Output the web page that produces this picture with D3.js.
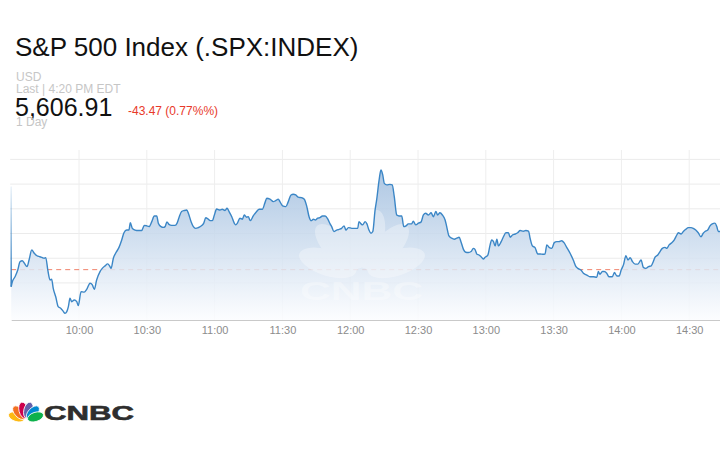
<!DOCTYPE html>
<html>
<head>
<meta charset="utf-8">
<script src="https://cdn.jsdelivr.net/npm/d3@7"></script>
<style>
  body { margin: 0; background: #fff; }
  text { font-family: "Liberation Sans", Arial, sans-serif; }
</style>
</head>
<body>
<div id="canvas"></div>
<script>
const w = 720;
const h = 450;
const plot = { left: 11.2, right: 720, top: 150, bottom: 320 };
const minutePx = 2.26;

// header texts
const title = "S&P 500 Index (.SPX:INDEX)";
const currency = "USD";
const lastTime = "Last | 4:20 PM EDT";
const lastPrice = "5,606.91";
const change = "-43.47 (0.77%%)";
const period = "1 Day";

// axes (only the ticks that fall inside the visible window)
const openTime = "9:30";
const closeTime = "16:00";
const timeTicks = ["10:00", "10:30", "11:00", "11:30", "12:00", "12:30", "13:00", "13:30", "14:00", "14:30"];
const priceDomain = [5630, 5698.8];
const priceGrid = [5645, 5655, 5665, 5675, 5685, 5695];
const prevClose = 5650.38;

// intraday series (minutes after the open, index level)
const minutesFromOpen = [
  0, 0, 0.5, 1.7, 2.9, 3.9, 4.9, 5.8, 7.0, 7.9,
  9.1, 10.2, 11.4, 12.7, 13.8, 14.6, 15.3, 16.2, 17.2, 17.9,
  18.6, 19.7, 20.8, 22.0, 23.1, 23.8, 24.6, 25.3, 26.0, 26.8,
  27.9, 29.0, 29.7, 30.9, 32.3, 33.4, 34.9, 35.9, 36.8, 37.8,
  39.3, 40.3, 41.5, 42.7, 43.7, 44.2, 45.2, 46.2, 47.7, 48.9,
  49.9, 51.1, 52.1, 52.7, 53.6, 54.8, 56.2, 57.7, 58.9, 60.0,
  61.0, 62.2, 63.3, 64.4, 65.1, 66.3, 67.3, 68.1, 68.9, 69.8,
  71.0, 72.5, 73.4, 74.3, 75.4, 76.6, 77.7, 78.4, 79.6, 80.6,
  81.6, 82.8, 84.3, 85.2, 86.1, 87.2, 88.0, 89.0, 89.9, 90.9,
  92.4, 93.4, 94.6, 95.5, 96.4, 97.6, 98.7, 99.3, 100.2, 101.2,
  102.3, 103.1, 104.2, 104.9, 105.8, 107.1, 108.6, 109.7, 111.1, 112.3,
  113.1, 114.5, 116.0, 117.0, 118.2, 118.9, 120.1, 121.5, 122.6, 123.8,
  124.8, 125.9, 127.0, 128.5, 129.7, 130.8, 131.8, 132.7, 133.7, 134.7,
  135.6, 136.6, 137.7, 138.9, 140.1, 141.1, 141.8, 142.8, 144.0, 145.1,
  146.2, 147.3, 148.1, 149.2, 150.7, 152.1, 153.3, 153.9, 154.8, 155.5,
  156.6, 157.4, 158.3, 159.2, 160.0, 161.0, 161.7, 162.8, 163.6, 164.4,
  165.1, 166.2, 167.6, 168.6, 169.5, 170.6, 171.6, 172.8, 173.7, 174.7,
  175.7, 177.2, 177.9, 179.0, 180.2, 181.3, 182.4, 183.4, 184.6, 185.8,
  186.8, 187.9, 188.7, 189.7, 190.8, 192.0, 192.7, 193.7, 194.9, 196.1,
  197.1, 198.2, 199.0, 200.1, 201.1, 202.3, 203.5, 204.5, 205.2, 206.1,
  207.0, 207.9, 208.9, 209.7, 210.9, 211.9, 212.6, 213.4, 214.1, 214.9,
  215.6, 216.8, 217.8, 218.9, 220.0, 220.8, 221.8, 223.0, 224.1, 225.2,
  226.6, 227.7, 228.9, 229.6, 230.6, 231.8, 233.0, 234.1, 235.2, 236.2,
  237.0, 238.0, 239.2, 240.3, 241.4, 242.4, 243.6, 244.6, 245.8, 247.3,
  248.7, 249.9, 250.7, 252.1, 253.2, 254.7, 256.1, 257.6, 259.1, 259.8,
  260.5, 261.6, 262.4, 263.5, 264.5, 266.0, 266.9, 268.0, 269.0, 269.9,
  270.9, 272.0, 272.9, 273.9, 274.9, 276.1, 277.3, 278.7, 279.7, 280.8,
  282.0, 283.2, 284.1, 284.9, 286.1, 287.1, 288.1, 289.3, 290.1, 291.1,
  292.3, 293.4, 294.5, 295.2, 296.4, 297.4, 298.5, 299.6, 300.8, 301.8,
  302.9, 304.0, 305.2, 306.2, 307.0, 308.2, 309.2, 310.2, 311.4, 312.2,
  312.9, 313.7, 314.6
];
const prices = [
  5684, 5643.5, 5645.5, 5647.5, 5650.2, 5653.6, 5654.0, 5653.0, 5651.6, 5654.3,
  5658.3, 5657.0, 5656.0, 5655.6, 5655.2, 5655.0, 5655.2, 5650.2, 5646.2, 5646.5,
  5642.8, 5639.4, 5635.4, 5634.7, 5633.4, 5632.7, 5633.4, 5635.4, 5638.8, 5637.4,
  5638.1, 5637.4, 5635.8, 5641.5, 5641.3, 5642.4, 5644.9, 5644.2, 5642.4, 5646.2,
  5649.6, 5650.9, 5651.9, 5652.7, 5651.6, 5650.9, 5655.0, 5657.0, 5659.4, 5662.4,
  5665.3, 5666.4, 5666.4, 5669.4, 5667.1, 5666.4, 5666.2, 5666.2, 5668.3, 5668.1,
  5667.8, 5669.8, 5672.1, 5672.1, 5669.2, 5667.8, 5667.5, 5667.8, 5669.7, 5668.7,
  5668.3, 5668.3, 5669.2, 5671.6, 5673.9, 5674.3, 5674.5, 5673.2, 5669.8, 5667.8,
  5667.1, 5667.4, 5668.2, 5669.2, 5671.4, 5670.8, 5670.2, 5670.2, 5672.5, 5674.9,
  5674.5, 5674.8, 5674.3, 5675.2, 5673.9, 5671.8, 5669.2, 5668.5, 5669.4, 5671.2,
  5670.8, 5672.5, 5671.6, 5671.8, 5670.2, 5672.1, 5673.9, 5674.8, 5674.8, 5677.5,
  5679.3, 5678.9, 5677.9, 5678.3, 5678.9, 5677.9, 5676.2, 5675.9, 5677.9, 5680.6,
  5680.9, 5680.6, 5679.7, 5679.5, 5678.9, 5675.9, 5671.8, 5670.2, 5670.8, 5670.5,
  5671.2, 5671.4, 5672.1, 5672.1, 5670.8, 5668.9, 5667.8, 5665.8, 5666.4, 5666.7,
  5667.1, 5668.1, 5666.4, 5667.4, 5667.1, 5667.1, 5667.1, 5669.8, 5668.9, 5668.5,
  5669.8, 5668.9, 5666.4, 5665.1, 5665.8, 5674.5, 5678.6, 5686.7, 5690.7, 5688.7,
  5685.3, 5684.7, 5684.9, 5684.7, 5679.9, 5672.5, 5672.1, 5672.1, 5667.8, 5668.1,
  5668.9, 5668.9, 5670.0, 5668.5, 5669.2, 5669.6, 5672.5, 5673.2, 5672.5, 5673.4,
  5671.8, 5673.9, 5672.5, 5673.4, 5672.5, 5670.5, 5667.8, 5664.0, 5663.1, 5662.7,
  5663.1, 5663.5, 5661.7, 5658.6, 5657.4, 5657.3, 5657.7, 5659.0, 5658.6, 5656.6,
  5656.3, 5655.6, 5654.7, 5655.4, 5656.3, 5660.4, 5662.4, 5661.7, 5660.0, 5662.7,
  5660.0, 5661.7, 5663.7, 5665.3, 5665.3, 5663.5, 5664.4, 5664.8, 5665.3, 5666.2,
  5665.9, 5666.2, 5666.0, 5663.1, 5660.0, 5659.3, 5656.7, 5656.7, 5656.6, 5656.7,
  5660.4, 5659.4, 5659.0, 5661.3, 5661.7, 5661.7, 5662.1, 5661.3, 5659.4, 5657.0,
  5654.3, 5651.6, 5650.9, 5650.2, 5648.9, 5648.2, 5647.5, 5647.5, 5647.3, 5649.6,
  5648.5, 5649.6, 5649.6, 5648.9, 5647.5, 5647.5, 5649.2, 5647.8, 5647.8, 5650.2,
  5652.3, 5656.0, 5654.3, 5655.2, 5653.6, 5652.6, 5652.6, 5654.3, 5651.3, 5650.9,
  5651.6, 5651.9, 5653.6, 5655.4, 5656.3, 5657.7, 5659.0, 5659.4, 5659.0, 5660.4,
  5661.3, 5662.4, 5664.4, 5665.3, 5664.8, 5665.8, 5666.7, 5667.4, 5667.4, 5667.1,
  5666.4, 5665.3, 5663.7, 5665.1, 5665.8, 5666.4, 5668.1, 5668.9, 5669.2, 5667.8,
  5665.8, 5665.8, 5665.5
];

const peacockColors = ["#fdb913", "#f37021", "#cc004c", "#6460aa", "#0089d0", "#0db14b"];
const peacockAngles = [-72, -43, -14, 14, 43, 72];

function peacock(g, cx, cy, s, colors, fat) {
  g.selectAll("ellipse")
    .data(peacockAngles)
    .enter()
      .append("ellipse")
      .attr("cx", 0)
      .attr("cy", -10 * s)
      .attr("rx", fat * s)
      .attr("ry", 8.3 * s)
      .attr("transform", d => `translate(${cx},${cy}) rotate(${d})`)
      .attr("fill", (d, i) => colors[i])
      .attr("stroke", "#fff")
      .attr("stroke-width", 0.8);
}

function render() {
  const parseTime = d3.timeParse("%H:%M");
  const open = parseTime(openTime);
  const close = parseTime(closeTime);
  const sessionMinutes = (close - open) / 60000;

  const data = minutesFromOpen.map((m, i) => ({
    time: new Date(open.getTime() + m * 60000),
    price: prices[i]
  }));

  const x = d3.scaleTime()
      .domain([open, close])
      .range([plot.left, plot.left + sessionMinutes * minutePx]);

  const y = d3.scaleLinear()
      .domain(priceDomain)
      .range([plot.bottom, plot.top]);

  const svg = d3.select("#canvas")
      .append("svg")
      .attr("width", w)
      .attr("height", h);

  const defs = svg.append("defs");

  const areaGrad = defs.append("linearGradient")
      .attr("id", "areaGrad")
      .attr("gradientUnits", "userSpaceOnUse")
      .attr("x1", 0).attr("x2", 0)
      .attr("y1", 165).attr("y2", plot.bottom);
  areaGrad.append("stop").attr("offset", 0).attr("stop-color", "#9cbbdd");
  areaGrad.append("stop").attr("offset", 1).attr("stop-color", "#fcfdff");

  const spikeGrad = defs.append("linearGradient")
      .attr("id", "spikeGrad")
      .attr("gradientUnits", "userSpaceOnUse")
      .attr("x1", 0).attr("x2", 0)
      .attr("y1", y(prices[0])).attr("y2", y(prices[1]));
  spikeGrad.append("stop").attr("offset", 0).attr("stop-color", "#3b86c6").attr("stop-opacity", 0.1);
  spikeGrad.append("stop").attr("offset", 1).attr("stop-color", "#2a78bd");

  // header
  const header = svg.append("g").classed("header", true);
  header.append("text")
      .attr("x", 15).attr("y", 56)
      .attr("font-size", 26)
      .attr("fill", "#111")
      .text(title);
  header.append("text")
      .attr("x", 16).attr("y", 81)
      .attr("font-size", 12)
      .attr("fill", "#c6c6c6")
      .text(currency);
  header.append("text")
      .attr("x", 16).attr("y", 93)
      .attr("font-size", 12)
      .attr("fill", "#c6c6c6")
      .text(lastTime);
  header.append("text")
      .attr("x", 15).attr("y", 116)
      .attr("font-size", 25)
      .attr("fill", "#111")
      .text(lastPrice);
  header.append("text")
      .attr("x", 128).attr("y", 115)
      .attr("font-size", 12)
      .attr("fill", "#e8392a")
      .text(change);
  header.append("text")
      .attr("x", 16).attr("y", 126)
      .attr("font-size", 12)
      .attr("fill", "#c6c6c6")
      .text(period);

  const chart = svg.append("g").classed("display", true);

  // grid
  chart.append("g")
      .selectAll("line")
      .data(priceGrid)
      .enter()
        .append("line")
        .attr("x1", plot.left - 1).attr("x2", plot.right)
        .attr("y1", d => y(d)).attr("y2", d => y(d))
        .attr("stroke", "#ebebeb");

  chart.append("g")
      .selectAll("line")
      .data(timeTicks)
      .enter()
        .append("line")
        .attr("x1", d => x(parseTime(d))).attr("x2", d => x(parseTime(d)))
        .attr("y1", plot.top).attr("y2", plot.bottom)
        .attr("stroke", "#eeeeee");

  // previous close
  chart.append("line")
      .attr("x1", plot.left).attr("x2", plot.right)
      .attr("y1", y(prevClose)).attr("y2", y(prevClose))
      .attr("stroke", "#f0826a")
      .attr("stroke-dasharray", "5,4");

  const series = data.slice(1);

  const area = d3.area()
      .curve(d3.curveMonotoneX)
      .x(d => x(d.time))
      .y0(plot.bottom)
      .y1(d => y(d.price));

  chart.append("path")
      .datum(series)
      .attr("d", area)
      .attr("fill", "url(#areaGrad)")
      .attr("fill-opacity", 0.85);

  // watermark
  const mark = chart.append("g").attr("opacity", 0.33);
  peacock(mark, 362, 274, 3.6, peacockColors.map(() => "#fff"), 3.6);
  mark.selectAll("ellipse").attr("stroke", "none");
  mark.append("text")
      .attr("x", 300).attr("y", 300)
      .attr("font-size", 25)
      .attr("font-weight", "bold")
      .attr("fill", "#fff")
      .attr("textLength", 123)
      .attr("lengthAdjust", "spacingAndGlyphs")
      .text("CNBC");

  const line = d3.line()
      .curve(d3.curveMonotoneX)
      .x(d => x(d.time))
      .y(d => y(d.price));

  chart.append("path")
      .datum(data.slice(0, 2))
      .attr("d", d3.line().x(d => x(d.time)).y(d => y(d.price)))
      .attr("fill", "none")
      .attr("stroke", "url(#spikeGrad)")
      .attr("stroke-width", 1.5);

  chart.append("path")
      .datum(series)
      .attr("d", line)
      .attr("fill", "none")
      .attr("stroke", "#3b86c6")
      .attr("stroke-width", 1.4)
      .attr("stroke-linejoin", "round");

  // x axis
  const xAxis = d3.axisBottom(x)
      .tickValues(timeTicks.map(parseTime))
      .tickFormat((d, i) => timeTicks[i])
      .tickSize(0)
      .tickSizeOuter(0)
      .tickPadding(6);

  const axis = chart.append("g")
      .attr("transform", `translate(0,${plot.bottom})`)
      .call(xAxis);
  axis.select(".domain")
      .attr("stroke", "#c9c9c9")
      .attr("stroke-width", 1.2);
  axis.selectAll("text")
      .attr("font-family", "Liberation Sans, Arial, sans-serif")
      .attr("font-size", 11)
      .attr("fill", "#8c8c8c");

  // logo
  const logo = svg.append("g").classed("logo", true);
  peacock(logo, 26, 420, 1, peacockColors, 4.6);
  logo.append("text")
      .attr("x", 44).attr("y", 420)
      .attr("font-size", 21)
      .attr("font-weight", "bold")
      .attr("fill", "#2e2e2e")
      .attr("stroke", "#2e2e2e")
      .attr("stroke-width", 0.6)
      .attr("textLength", 90)
      .attr("lengthAdjust", "spacingAndGlyphs")
      .text("CNBC");
}

render();
</script>
</body>
</html>
